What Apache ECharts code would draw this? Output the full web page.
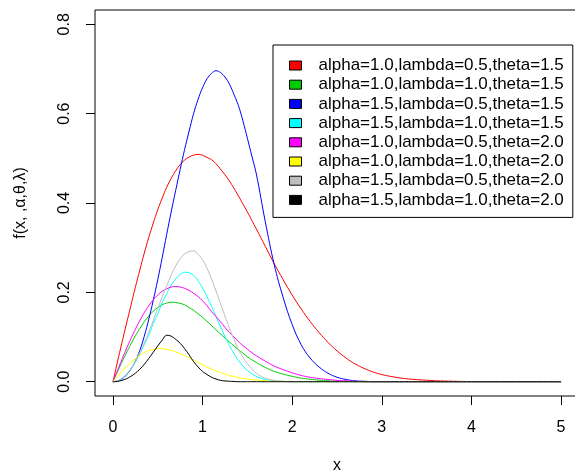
<!DOCTYPE html>
<html><head><meta charset="utf-8">
<script src="https://cdn.jsdelivr.net/npm/echarts@6/dist/echarts.min.js"></script>
<style>html,body{margin:0;padding:0;background:#fff}#c{width:575px;height:474px}</style>
</head><body><div id="c"></div>
<script>
// x positions (shared by all curves)
const xs = [0,0.05,0.1,0.15,0.2,0.25,0.3,0.35,0.4,0.45,0.5,
            0.55,0.6,0.65,0.7,0.75,0.8,0.85,0.9,0.95,1.0,
            1.05,1.1,1.15,1.2,1.25,1.3,1.35,1.4,1.45,1.5,1.55,1.6,
            1.7,1.8,1.9,2.0,2.1,2.2,2.3,2.4,2.5,2.6,2.7,2.8,2.9,3.0,
            3.2,3.4,3.6,3.8,4.0,5.0];

const seriesNames = [
  'alpha=1.0,lambda=0.5,theta=1.5',
  'alpha=1.0,lambda=1.0,theta=1.5',
  'alpha=1.5,lambda=0.5,theta=1.5',
  'alpha=1.5,lambda=1.0,theta=1.5',
  'alpha=1.0,lambda=0.5,theta=2.0',
  'alpha=1.0,lambda=1.0,theta=2.0',
  'alpha=1.5,lambda=0.5,theta=2.0',
  'alpha=1.5,lambda=1.0,theta=2.0'
];

const redVals = [0,0.044,0.087,0.129,0.170,0.211,0.250,0.288,0.323,0.355,0.385,
                 0.411,0.435,0.455,0.472,0.486,0.496,0.503,0.507,0.509,0.507,
                 0.502,0.497,0.488,0.476,0.463,0.449,0.433,0.416,0.398,0.380,0.361,0.342,
                 0.303,0.264,0.228,0.194,0.163,0.135,0.110,0.088,0.069,0.053,0.040,0.030,0.022,0.016,
                 0.0085,0.0045,0.0022,0.001,0.0004,0];
const greenVals = [0,0.022,0.0436,0.0644,0.084,0.1027,0.119,0.1343,0.147,0.1578,0.166,
                   0.1723,0.176,0.178,0.1772,0.1754,0.172,0.1658,0.160,0.152,0.144,
                   0.135,0.126,0.116,0.107,0.098,0.089,0.080,0.072,0.064,0.056,0.049,0.043,
                   0.032,0.023,0.017,0.012,0.008,0.0055,0.0035,0.002,0.001,0.0006,0.0003,0,0,0,
                   0,0,0,0,0,0];
const blueVals = [0,0.0015,0.006,0.015,0.028,0.046,0.070,0.102,0.140,0.182,0.228,
                  0.278,0.330,0.380,0.428,0.475,0.520,0.561,0.600,0.632,0.658,
                  0.678,0.690,0.696,0.692,0.682,0.666,0.643,0.618,0.584,0.545,0.505,0.465,
                  0.358,0.262,0.188,0.128,0.083,0.053,0.033,0.019,0.010,0.005,0.002,0.001,0,0,
                  0,0,0,0,0,0];
const cyanVals = [0,0.0018,0.0072,0.0161,0.0285,0.044,0.0626,0.0835,0.104,0.130,0.152,
                  0.1771,0.197,0.2164,0.230,0.2402,0.245,0.244,0.238,0.226,0.210,
                  0.190,0.169,0.146,0.123,0.101,0.081,0.063,0.048,0.035,0.025,0.0175,0.0118,
                  0.005,0.0018,0.0006,0,0,0,0,0,0,0,0,0,0,0,
                  0,0,0,0,0,0];
const magentaVals = [0,0.0249,0.0495,0.0733,0.096,0.1172,0.137,0.1545,0.170,0.1832,0.194,
                     0.2024,0.208,0.2118,0.213,0.2119,0.209,0.2044,0.198,0.1907,0.181,
                     0.170,0.157,0.146,0.134,0.122,0.110,0.100,0.090,0.081,0.073,0.065,0.058,
                     0.046,0.035,0.027,0.020,0.014,0.010,0.007,0.005,0.003,0.002,0.001,0,0,0,
                     0,0,0,0,0,0];
const yellowVals = [0,0.0116,0.0228,0.0335,0.0432,0.0519,0.0592,0.0651,0.0695,0.0724,0.0740,
                    0.0738,0.0726,0.0702,0.0669,0.0628,0.0582,0.0533,0.0481,0.0430,0.0379,
                    0.0330,0.0285,0.0243,0.0205,0.0171,0.0140,0.0115,0.0093,0.0074,0.0059,0.0046,0.0036,
                    0.0021,0.0011,0.0006,0,0,0,0,0,0,0,0,0,0,0,
                    0,0,0,0,0,0];
const grayVals = [0,0.0019,0.0074,0.0166,0.0294,0.0456,0.0649,0.087,0.111,0.137,0.164,
                  0.1901,0.215,0.2387,0.259,0.2749,0.286,0.291,0.293,0.285,0.273,
                  0.254,0.230,0.203,0.175,0.147,0.120,0.095,0.072,0.055,0.040,0.029,0.019,
                  0.008,0.003,0.001,0,0,0,0,0,0,0,0,0,0,0,
                  0,0,0,0,0,0];
const blackVals = [0,0.0005,0.003,0.0065,0.012,0.019,0.028,0.039,0.052,0.066,0.080,
                   0.093,0.104,0.102,0.095,0.086,0.074,0.060,0.045,0.033,0.023,
                   0.016,0.010,0.006,0.003,0.0018,0.001,0.0005,0,0,0,0,0,
                   0,0,0,0,0,0,0,0,0,0,0,0,0,0,
                   0,0,0,0,0,0];

const xTicks = [0,1,2,3,4,5];
const yTicks = [0,0.2,0.4,0.6,0.8];

const allVals = [redVals, greenVals, blueVals, cyanVals, magentaVals, yellowVals, grayVals, blackVals];
const colors = ['#FF0000','#00CD00','#0000FF','#00FFFF','#FF00FF','#FFFF00','#BEBEBE','#000000'];
const FONT = 'Liberation Sans, Arial, sans-serif';

const chart = echarts.init(document.getElementById('c'), null, {renderer:'canvas'});
chart.setOption({
  animation: false,
  backgroundColor: '#fff',
  grid: {left:95, top:10, right:-4, bottom:78, show:true, borderColor:'#000', borderWidth:1,
         backgroundColor:'transparent', outerBoundsMode:'none', containLabel:false},
  xAxis: {
    type:'value', min:-0.2, max:5.2,
    axisLine:{show:false, onZero:false},
    splitLine:{show:false},
    axisTick:{show:true, length:9, customValues:xTicks, lineStyle:{color:'#000', width:1}},
    axisLabel:{customValues:xTicks, margin:24, fontSize:16, color:'#000', fontFamily:FONT},
    name:'x', nameLocation:'middle', nameGap:62,
    nameTextStyle:{fontSize:16, color:'#000', fontFamily:FONT}
  },
  yAxis: {
    type:'value', min:-0.032, max:0.832,
    axisLine:{show:false, onZero:false},
    splitLine:{show:false},
    axisTick:{show:true, length:9, customValues:yTicks, lineStyle:{color:'#000', width:1}},
    axisLabel:{customValues:yTicks, rotate:90, margin:22, fontSize:16, color:'#000', fontFamily:FONT,
               formatter: v => v.toFixed(1)},
    name:'f(x, ,α,θ,λ)', nameLocation:'middle', nameGap:66, nameRotate:90,
    nameTextStyle:{fontSize:16, color:'#000', fontFamily:FONT}
  },
  legend: {
    orient:'vertical', left:273, top:45,
    padding:[12,9,9,16],
    itemWidth:12, itemHeight:9, itemGap:2.2,
    icon:'rect',
    borderColor:'#000', borderWidth:1, backgroundColor:'#fff',
    itemStyle:{borderColor:'#000', borderWidth:1},
    textStyle:{fontSize:17, lineHeight:17, color:'#000', fontFamily:FONT, padding:[0,0,0,12]},
    data: seriesNames
  },
  series: seriesNames.map((name, i) => ({
    name: name,
    type:'line',
    data: xs.map((x, j) => [x, allVals[i][j]]),
    showSymbol:false, symbol:'none',
    smooth:0.4,
    lineStyle:{color:colors[i], width:1},
    itemStyle:{color:colors[i]},
    emphasis:{disabled:true},
    z: 2 + i
  }))
});
</script></body></html>
